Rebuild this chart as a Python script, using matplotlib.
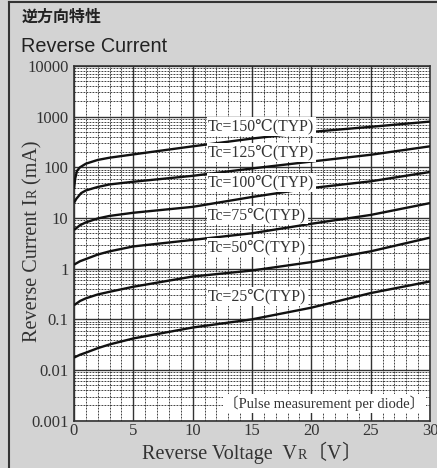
import matplotlib
matplotlib.use("Agg")
import matplotlib.pyplot as plt
from matplotlib.lines import Line2D
from matplotlib.transforms import IdentityTransform
import numpy as np

# curves (V in volts, I in mA)
v_150 = [0, 0.1, 0.25, 0.5, 1, 2, 3, 5, 10, 15, 20, 25, 30]
i_150 = [38, 60, 85, 100, 118, 140, 155, 180, 260, 370, 500, 630, 800]
v_125 = [0, 0.2, 0.6, 1, 2, 3, 5, 10, 15, 20, 25, 30]
i_125 = [20, 24, 31, 35, 41, 46, 52, 68, 95, 130, 177, 260]
v_100 = [0, 0.5, 1, 2, 3, 5, 10, 15, 20, 25, 30]
i_100 = [5.8, 7.2, 8.2, 9.8, 11, 12.7, 16.6, 26, 39, 53, 81]
v_75 = [0, 0.5, 1, 2, 3, 5, 10, 15, 20, 25, 30]
i_75 = [1.2, 1.4, 1.55, 1.9, 2.2, 2.75, 3.7, 5.0, 7.7, 11.5, 19.7]
v_50 = [0, 0.5, 1, 2, 3, 5, 10, 15, 20, 25, 30]
i_50 = [0.19, 0.23, 0.26, 0.31, 0.35, 0.44, 0.70, 0.92, 1.35, 2.2, 4.1]
v_25 = [0, 0.5, 1, 2, 3, 5, 10, 15, 20, 25, 30]
i_25 = [0.0176, 0.020, 0.022, 0.027, 0.032, 0.042, 0.069, 0.10, 0.17, 0.33, 0.56]

curve_labels = ["Tc=150℃(TYP)", "Tc=125℃(TYP)", "Tc=100℃(TYP)",
                "Tc=75℃(TYP)", "Tc=50℃(TYP)", "Tc=25℃(TYP)"]
label_y = [650, 195, 51, 11.5, 2.6, 0.28]

x_ticks = [0, 5, 10, 15, 20, 25, 30]
y_ticks = [0.001, 0.01, 0.1, 1, 10, 100, 1000, 10000]
y_ticklabels = ["0.001", "0.01", "0.1", "1", "10", "100", "1000", "10000"]

serif = ["Liberation Serif", "DejaVu Serif", "Noto Sans CJK JP"]
cjk = ["Noto Sans CJK JP"]
ink = "#333333"

W, H = 437, 468
fig = plt.figure(figsize=(W / 100, H / 100), dpi=100, facecolor="#d3d3d3")
ax = fig.add_axes([74 / W, 1 - 420.7 / H, 356 / W, 354.7 / H])
ax.set_facecolor("white")

ax.set_yscale("log")
ax.set_xlim(0, 30)
ax.set_ylim(1e-3, 1e4)

curves = [(v_150, i_150), (v_125, i_125), (v_100, i_100),
          (v_75, i_75), (v_50, i_50), (v_25, i_25)]
for v, i in curves:
    ax.plot(v, i, color="#111111", lw=1.7, zorder=4, solid_capstyle="butt")

# grid
ax.set_xticks(x_ticks)
ax.set_xticks(np.arange(0, 31, 1), minor=True)
ax.set_yticks(y_ticks)
minor_y = [m * 10.0 ** e for e in range(-3, 4) for m in range(2, 10)]
ax.set_yticks(minor_y, minor=True)
ax.yaxis.set_minor_formatter(plt.NullFormatter())
ax.set_yticklabels(y_ticklabels)
ax.grid(which="major", color=ink, lw=1.0, zorder=2)
ax.grid(which="minor", color="#222222", lw=0.6, ls=(0, (2.2, 1.4)), zorder=1)
ax.set_axisbelow(True)
ax.tick_params(which="both", length=0, colors=ink, labelsize=12)
ax.tick_params(axis="y", pad=4)
ax.tick_params(axis="x", pad=2)
for lab in ax.get_xticklabels() + ax.get_yticklabels():
    lab.set_family(serif)
for sp in ax.spines.values():
    sp.set_color(ink)
    sp.set_linewidth(1.2)

for txt, y in zip(curve_labels, label_y):
    ax.text(11.3, y, txt, family=serif, fontsize=11.3, color=ink,
            ha="left", va="center", zorder=6,
            bbox=dict(facecolor="white", edgecolor="none", pad=1.0))

ax.text(21.1, 0.0022, "〔Pulse measurement per diode〕", family=serif,
        fontsize=10.5, color=ink, ha="center", va="center", zorder=6,
        bbox=dict(facecolor="white", edgecolor="none", pad=1.0))

# frame lines of the sheet
fig.add_artist(Line2D([8.5 / W, 8.5 / W], [0, 1 - 1.5 / H],
                      transform=fig.transFigure, color=ink, lw=1.5))
fig.add_artist(Line2D([8.5 / W, 1], [1 - 1.5 / H, 1 - 1.5 / H],
                      transform=fig.transFigure, color=ink, lw=1.5))

# titles
fig.text(22 / W, 1 - 17 / H, "逆方向特性", family="Noto Sans CJK JP",
         fontweight="bold", fontsize=11.5, color="#222222", va="center")
fig.text(21 / W, 1 - 47 / H, "Reverse Current", family="Liberation Sans",
         fontsize=14.3, color="#222222", va="center")

# axis labels built from pieces (small R)
renderer = fig.canvas.get_renderer()


def put_pieces(pieces, cx, cy, rotation=0):
    arts = []
    for s, size, fam in pieces:
        t = fig.text(0, 0, s, family=fam, fontsize=size, color=ink,
                     ha="left", va="baseline", rotation=rotation,
                     rotation_mode="anchor", transform=IdentityTransform())
        arts.append(t)
    sizes = []
    for t in arts:
        bb = t.get_window_extent(renderer)
        sizes.append(bb.height if rotation else bb.width)
    total = sum(sizes)
    pos = (cy if rotation else cx) - total / 2
    for t, s in zip(arts, sizes):
        if rotation:
            t.set_position((cx, pos))
        else:
            t.set_position((pos, cy))
        pos += s


put_pieces([("Reverse Voltage  V", 14.5, serif), ("R", 10, serif),
            ("〔", 14.5, cjk), ("V", 14.5, serif), ("〕", 14.5, cjk)],
           252, H - 459)
put_pieces([("Reverse Current I", 14.5, serif), ("R", 10, serif),
            (" (mA)", 14.5, serif)],
           37, H - 241, rotation=90)

fig.savefig("out.png", dpi=100, facecolor=fig.get_facecolor())
